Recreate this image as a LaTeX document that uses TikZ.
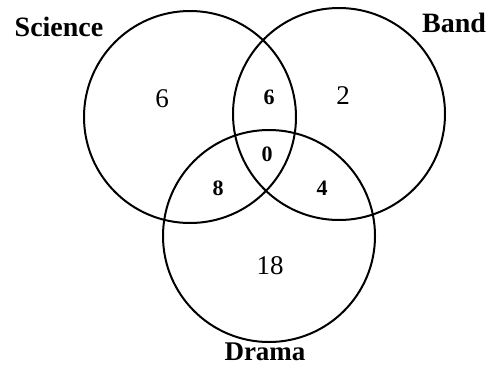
\documentclass[tikz,border=0pt]{standalone}
\usepackage{fontspec}
\setmainfont{Liberation Serif}
\begin{document}
\begin{tikzpicture}[x=1pt,y=-1pt,
  setc/.style={draw=black,line width=2pt,circle,minimum size=212pt,inner sep=0pt},
  lab/.style={font=\fontsize{28}{30}\selectfont\bfseries,anchor=base,inner sep=0pt},
  num/.style={font=\fontsize{27}{30}\selectfont,anchor=base,inner sep=0pt},
  bnum/.style={font=\fontsize{22}{24}\selectfont\bfseries,anchor=base,inner sep=0pt}]
\useasboundingbox (0,0) rectangle (489,367);
\node[setc] (sci) at (190,117) {};
\node[setc] (band) at (339,114) {};
\node[setc] (drama) at (269,236) {};
\node[lab] (lsci) at (59,36) {Science};
\node[lab] (lband) at (454,32) {Band};
\node[lab,font=\fontsize{27}{29}\selectfont\bfseries] (ldrama) at (265,360) {Drama};
\node[num] (n1) at (162,107) {6};
\node[num] (n2) at (343,104) {2};
\node[num] (n3) at (270,274) {18};
\node[bnum] (b1) at (269,104) {6};
\node[bnum] (b2) at (267,161) {0};
\node[bnum] (b3) at (218,195) {8};
\node[bnum] (b4) at (322,195) {4};
\end{tikzpicture}
\end{document}
